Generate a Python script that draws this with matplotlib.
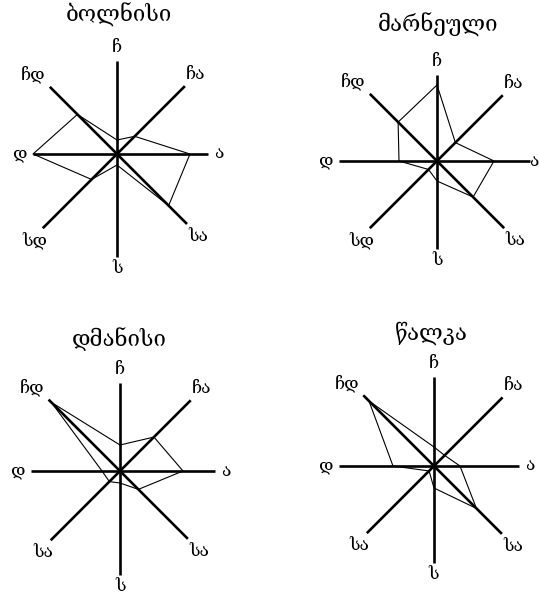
import numpy as np
import matplotlib
matplotlib.use("Agg")
import matplotlib.pyplot as plt

plt.rcParams['font.family'] = ['DejaVu Serif', 'DejaVu Sans']

# ---- data ----
directions = ['N', 'NE', 'E', 'SE', 'S', 'SW', 'W', 'NW']
titles = ['ბოლნისი', 'მარნეული', 'დმანისი', 'წალკა']
labels_a = ['ჩ', 'ჩა', 'ა', 'სა', 'ს', 'სდ', 'დ', 'ჩდ']
labels_b = ['ჩ', 'ჩა', 'ა', 'სა', 'ს', 'სა', 'დ', 'ჩდ']
bolnisi = [14, 25, 73, 73, 11, 36, 84, 56]
marneuli = [76, 26, 57, 51, 20, 12, 38, 55]
dmanisi = [26, 48, 63, 26, 12, 15, 18, 97]
tsalka = [19, 15, 26, 60, 22, 7, 41, 92]

# ---- layout / style ----
W, H = 539, 598
angles = np.deg2rad([90, 45, 0, -45, -90, -135, 180, 135])
axis_len = [
    [93, 96, 91, 99, 103, 105, 84, 95],
    [86, 93, 93, 95, 88, 95, 98, 95],
    [88, 100, 95, 96, 104, 98, 89, 101],
    [89, 97, 85, 96, 97, 95, 95, 100],
]
boxes = [(0, 0, 270, 299), (270, 0, 269, 299), (0, 299, 270, 299), (270, 299, 269, 299)]
centers = [(117, 154), (437, 161), (120, 471), (434, 466)]
title_pos = [(119, 15), (438, 25), (119, 339), (431, 333)]
lab_style = {
    'N': (0, 5, 'center', 'bottom'),
    'NE': (1, 3, 'left', 'bottom'),
    'E': (6, 0, 'left', 'center'),
    'SE': (1, -4, 'left', 'top'),
    'S': (0, -3, 'center', 'top'),
    'SW': (-8, -4, 'center', 'top'),
    'W': (-6, 0, 'right', 'center'),
    'NW': (-4, 3, 'right', 'bottom'),
}

fig = plt.figure(figsize=(W / 100, H / 100), dpi=100)
fig.patch.set_facecolor('white')

series = [bolnisi, marneuli, dmanisi, tsalka]
lab_sets = [labels_a, labels_a, labels_b, labels_b]

for k in range(4):
    x0, y0, bw, bh = boxes[k]
    cx, cy = centers[k]
    ax = fig.add_axes([x0 / W, 1 - (y0 + bh) / H, bw / W, bh / H])
    ax.set_xlim(x0 - cx, x0 + bw - cx)
    ax.set_ylim(cy - (y0 + bh), cy - y0)
    ax.axis('off')
    L = np.array(axis_len[k])
    ex, ey = L * np.cos(angles), L * np.sin(angles)
    for i in range(8):
        ax.plot([0, ex[i]], [0, ey[i]], color='black', lw=1.9, solid_capstyle='butt')
    v = np.array(series[k], dtype=float)
    px, py = v * np.cos(angles), v * np.sin(angles)
    ax.plot(np.append(px, px[0]), np.append(py, py[0]), color='black', lw=0.8)
    xmax = x0 + bw - cx
    ymin = cy - (y0 + bh)
    for i, d in enumerate(directions):
        dx, dy, ha, va = lab_style[d]
        lx, ly = ex[i] + dx, ey[i] + dy
        if d == 'E' and lx + 9 > xmax:
            lx, ha = xmax - 1, 'right'
        if d == 'S' and ly - 16 < ymin:
            ly, va = ymin + 2, 'bottom'
        ax.text(lx, ly, lab_sets[k][i], ha=ha, va=va,
                fontsize=12.5, clip_on=False)
    tx, ty = title_pos[k]
    ax.text(tx - cx, cy - ty, titles[k], ha='center', va='center', fontsize=16, clip_on=False)

fig.savefig('out.png', dpi=100, facecolor='white')
